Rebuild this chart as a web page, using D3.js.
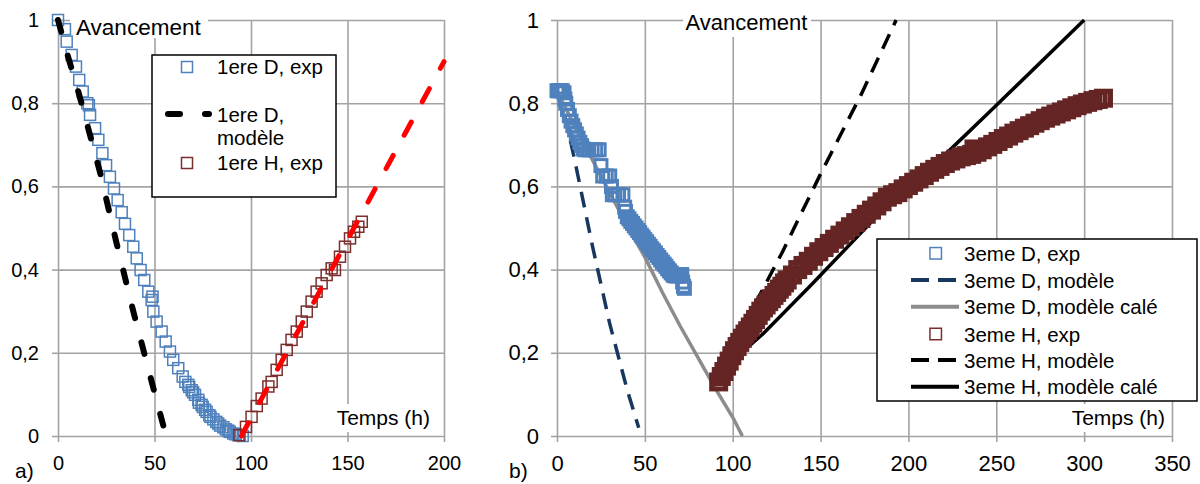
<!DOCTYPE html>
<html><head><meta charset="utf-8">
<script src="https://cdn.jsdelivr.net/npm/d3@7"></script>
<style>
body{margin:0;background:#fff}
svg{display:block}
text{font-family:"Liberation Sans",Arial,sans-serif;fill:#000}
</style>
</head><body>
<svg id="c" width="1200" height="484"></svg>
<script>
// ---------- DATA ----------
const yTicks = [0, 0.2, 0.4, 0.6, 0.8, 1];
const xTicksA = [0, 50, 100, 150, 200];
const xTicksB = [0, 50, 100, 150, 200, 250, 300, 350];

// Panel a) — 1ere
const d1Exp = [[0,1.0],[3.6,0.978],[4.5,0.948],[7.1,0.916],[9.3,0.888],[11,0.856],[12.8,0.828],[15.2,0.80],[16,0.795],[16.6,0.772],[19.2,0.74],[20.9,0.712],[23,0.68],[24.9,0.651],[26.9,0.623],[29,0.595],[30.9,0.567],[33,0.538],[34.7,0.51],[36.9,0.483],[39,0.455],[40.8,0.427],[42.8,0.399],[44.7,0.375],[46.8,0.347],[48.5,0.327],[49,0.335],[49.4,0.299],[51.1,0.275],[53.7,0.251],[55.8,0.227],[58,0.203],[59.7,0.183],[62.3,0.163],[64.6,0.143],[66,0.13],[67.5,0.123],[68,0.118],[69.3,0.11],[70,0.105],[71,0.099],[72.7,0.087],[73,0.08],[74.4,0.075],[75,0.07],[76.2,0.063],[77,0.058],[78.4,0.05],[79,0.046],[80.5,0.04],[82,0.034],[83,0.03],[84,0.025],[85.7,0.021],[87,0.016],[88.2,0.013],[89,0.01],[90.8,0.006],[92,0.004],[93.4,0.002],[95.7,0]];
const d1Model = [[0,1],[5,0.915],[11,0.82],[22,0.63],[30,0.47],[39,0.3],[48,0.14],[56,0]];
const h1Exp = [[94,0.002],[97.4,0.022],[100.3,0.046],[103,0.072],[105.5,0.09],[109,0.119],[110.7,0.13],[113.3,0.159],[115.9,0.183],[118.5,0.207],[121,0.231],[123.7,0.251],[126.3,0.275],[128.9,0.299],[131.4,0.323],[134,0.347],[136.6,0.367],[139.2,0.387],[141.8,0.403],[143.5,0.399],[146.1,0.431],[148.7,0.455],[151.3,0.475],[153.4,0.491],[155.6,0.503],[157.4,0.515]];
const h1Model = [[95,0],[200,0.9]];

// Panel b) — 3eme
const d3Exp = [[0,0.83],[1,0.83],[2,0.83],[3,0.83],[4,0.825],[4.5,0.81],[5,0.8],[6,0.785],[7,0.77],[8,0.757],[9,0.746],[10,0.736],[11,0.726],[12,0.716],[13,0.706],[14,0.698],[15,0.69],[16,0.688],[18,0.688],[20,0.688],[22,0.688],[24,0.688],[25,0.65],[26,0.625],[28,0.625],[30,0.625],[31,0.6],[31.5,0.58],[33,0.58],[35,0.58],[37.5,0.58],[38.5,0.55],[39,0.54],[40,0.527],[41,0.522],[42,0.516],[43,0.511],[44,0.505],[45,0.5],[46,0.494],[47,0.489],[48,0.483],[49,0.478],[50,0.472],[51,0.467],[52,0.461],[53,0.456],[54,0.45],[55,0.445],[56,0.44],[57,0.434],[58,0.429],[59,0.423],[60,0.418],[61,0.413],[62,0.408],[63,0.402],[64,0.397],[65,0.392],[66,0.387],[67,0.385],[68,0.385],[69,0.385],[70,0.387],[71,0.388],[71.5,0.37],[72,0.36],[72.5,0.355]];
const d3Model = [[0,0.83],[5,0.76],[10,0.665],[20,0.46],[30,0.27],[40,0.11],[46.5,0.02]];
const d3Fit = [[0,0.83],[10,0.745],[20,0.665],[30,0.585],[40,0.505],[50,0.43],[60,0.345],[70,0.265],[80,0.19],[90,0.115],[100,0.045],[105.5,0]];
const h3Exp = [[92,0.13],[93.5,0.143],[95,0.155],[96.5,0.168],[98,0.18],[99.5,0.193],[101,0.205],[102.5,0.215],[104,0.225],[105.5,0.235],[107,0.245],[108.5,0.253],[110,0.262],[111.5,0.271],[113,0.28],[114.5,0.29],[116,0.3],[117.5,0.308],[119,0.315],[120.5,0.323],[122,0.33],[123.5,0.338],[125,0.345],[126.5,0.353],[128,0.36],[129.5,0.368],[131,0.375],[134,0.387],[137,0.4],[140,0.41],[143,0.42],[146,0.432],[149,0.443],[152,0.453],[155,0.463],[158,0.473],[161,0.483],[164,0.493],[167,0.503],[170,0.513],[173,0.523],[176,0.533],[179,0.543],[182,0.553],[185,0.563],[188,0.574],[191,0.58],[194,0.585],[197,0.594],[200,0.602],[203,0.61],[206,0.618],[209,0.626],[212,0.634],[215,0.641],[218,0.648],[221,0.655],[224,0.661],[227,0.666],[230,0.671],[233,0.674],[236,0.677],[237.3,0.69],[239,0.682],[242,0.688],[245,0.695],[248,0.701],[251,0.708],[254,0.715],[257,0.721],[260,0.728],[263,0.734],[266,0.74],[269,0.746],[272,0.752],[275,0.758],[278,0.764],[281,0.769],[284,0.774],[287,0.779],[290,0.784],[293,0.789],[296,0.794],[299,0.798],[302,0.802],[305,0.806],[308,0.809],[311,0.812]];
const h3Model = [[92,0.15],[104,0.245],[113,0.32],[128,0.44],[150,0.63],[173,0.82],[193,1.0]];
const h3Fit = [[92,0.15],[105,0.2],[117.6,0.247],[145.6,0.367],[188.9,0.559],[222.5,0.683],[247.4,0.784],[300,1.0]];

const legendA = ["1ere D, exp", "1ere D, modèle", "1ere H, exp"];
const legendB = ["3eme D, exp", "3eme D, modèle", "3eme D, modèle calé", "3eme H, exp", "3eme H, modèle", "3eme H, modèle calé"];

// ---------- DRAW ----------
const svg = d3.select("#c");
svg.append("rect").attr("width",1200).attr("height",484).attr("fill","#fff");

const GRID = "#a3a3a3";
const BLUE = "#4f81bd";
const fmt = d => d === 0 ? "0" : d === 1 ? "1" : d3.format(".1f")(d).replace(".", ",");
const y = d3.scaleLinear([0,1],[436,20]);
const xA = d3.scaleLinear([0,200],[58,444]);
const xB = d3.scaleLinear([0,350],[557,1172]);

function frame(x, xTicks, fs, padY, padX){
  const g = svg.append("g");
  const [x0,x1] = x.range();
  g.append("g").attr("transform",`translate(${x0},0)`)
    .call(d3.axisLeft(y).tickValues(yTicks).tickSize(-(x1-x0)).tickFormat(""))
    .call(s=>{s.select(".domain").remove(); s.selectAll("line").attr("stroke",GRID).attr("stroke-width",1.6);});
  g.append("g").attr("transform",`translate(0,${y(0)})`)
    .call(d3.axisBottom(x).tickValues(xTicks).tickSize(-(y(0)-y(1))).tickFormat(""))
    .call(s=>{s.select(".domain").remove(); s.selectAll("line").attr("stroke",GRID).attr("stroke-width",1.6);});
  g.append("g").attr("transform",`translate(${x0},0)`)
    .call(d3.axisLeft(y).tickValues(yTicks).tickSize(6).tickPadding(padY).tickFormat(fmt))
    .call(s=>{s.select(".domain").remove(); s.selectAll("line").attr("stroke",GRID).attr("stroke-width",1.6);
      s.selectAll("text").attr("font-size",fs).attr("font-family",'"Liberation Sans",Arial,sans-serif').attr("fill","#000");});
  g.append("g").attr("transform",`translate(0,${y(0)})`)
    .call(d3.axisBottom(x).tickValues(xTicks).tickSize(6).tickPadding(padX))
    .call(s=>{s.select(".domain").remove(); s.selectAll("line").attr("stroke",GRID).attr("stroke-width",1.6);
      s.selectAll("text").attr("font-size",fs).attr("font-family",'"Liberation Sans",Arial,sans-serif').attr("fill","#000");});
  return g;
}

function label(txt, x, yb, fs, anchor, bg){
  if (bg) svg.append("rect").attr("x",bg[0]).attr("y",bg[1]).attr("width",bg[2]).attr("height",bg[3]).attr("fill","#fff");
  svg.append("text").attr("x",x).attr("y",yb).attr("font-size",fs).attr("text-anchor",anchor||"start").text(txt);
}

function squares(data, x, size, color, sw){
  svg.append("g").selectAll("rect").data(data).join("rect")
    .attr("x", d => x(d[0]) - size/2).attr("y", d => y(d[1]) - size/2)
    .attr("width", size).attr("height", size)
    .attr("fill","none").attr("stroke",color).attr("stroke-width",sw);
}
function line(data, x, color, sw, dash, cap){
  svg.append("path").datum(data)
    .attr("d", d3.line().x(d => x(d[0])).y(d => y(d[1])))
    .attr("fill","none").attr("stroke",color).attr("stroke-width",sw)
    .attr("stroke-dasharray", dash || null).attr("stroke-linecap", cap || "butt");
}

// ----- Panel a -----
frame(xA, xTicksA, 20, 13, 14);
label("Avancement", 76, 35, 22.5, "start", [70, 8, 138, 30]);
label("Temps (h)", 430, 425, 21, "end", [330, 404, 104, 28]);
label("a)", 15, 478, 21);

squares(d1Exp, xA, 11, BLUE, 1.5);
squares(h1Exp, xA, 11, "#7b2f2d", 1.5);
line(d1Model, xA, "#000", 6, "12,25", "round");
line(h1Model, xA, "#ff0000", 5, "15,23", "round");

// legend a
{
  const g = svg.append("g");
  g.append("rect").attr("x",152).attr("y",55).attr("width",184).attr("height",142).attr("fill","#fff").attr("stroke","#000").attr("stroke-width",1.5);
  const fs = 20.5;
  g.append("rect").attr("x",181.5).attr("y",61.5).attr("width",11).attr("height",11).attr("fill","none").attr("stroke",BLUE).attr("stroke-width",1.5);
  g.append("text").attr("x",217).attr("y",73.5).attr("font-size",fs).text(legendA[0]);
  g.append("line").attr("x1",168).attr("x2",209).attr("y1",114).attr("y2",114).attr("stroke","#000").attr("stroke-width",6).attr("stroke-dasharray","12,25").attr("stroke-linecap","round");
  const parts = legendA[1].split(" ");
  g.append("text").attr("x",217).attr("y",121.5).attr("font-size",fs).text(parts[0] + " " + parts[1]);
  g.append("text").attr("x",217).attr("y",144.5).attr("font-size",fs).text(parts[2]);
  g.append("rect").attr("x",181.5).attr("y",157.5).attr("width",11).attr("height",11).attr("fill","none").attr("stroke","#7b2f2d").attr("stroke-width",1.5);
  g.append("text").attr("x",217).attr("y",169.5).attr("font-size",fs).text(legendA[2]);
}

// ----- Panel b -----
frame(xB, xTicksB, 22, 12, 13);
label("Avancement", 746.5, 29.5, 22, "middle", [683, 6, 128, 31]);
label("Temps (h)", 1165, 425, 21, "end", [1066, 404, 102, 28]);
label("b)", 509, 478, 21);

line(d3Model, xB, "#17375e", 3.5, "16,10");
line(d3Fit, xB, "#8c8c8c", 3.5);
line(h3Model, xB, "#000", 3.5, "16,10");
line(h3Fit, xB, "#000", 3.5);
squares(d3Exp, xB, 12, BLUE, 3);
squares(h3Exp, xB, 14, "#652524", 5);

// legend b
{
  const g = svg.append("g");
  g.append("rect").attr("x",877).attr("y",239).attr("width",320).attr("height",162).attr("fill","#fff").attr("stroke","#000").attr("stroke-width",1.5);
  const rows = [253.3, 280, 306.7, 334, 360, 386.7];
  const fs = 20.5;
  const sym = [
    {t:"sq", c:BLUE},
    {t:"ln", c:"#17375e", dash:"18,9"},
    {t:"ln", c:"#8c8c8c"},
    {t:"sq", c:"#7b2f2d"},
    {t:"ln", c:"#000", dash:"18,9"},
    {t:"ln", c:"#000"}
  ];
  legendB.forEach((name,i) => {
    const cy = rows[i], s = sym[i];
    if (s.t === "sq") {
      g.append("rect").attr("x",935.7-5.75).attr("y",cy-5.75).attr("width",11.5).attr("height",11.5).attr("fill","none").attr("stroke",s.c).attr("stroke-width",1.5);
    } else {
      g.append("line").attr("x1",911).attr("x2",959).attr("y1",cy).attr("y2",cy).attr("stroke",s.c).attr("stroke-width",4).attr("stroke-dasharray",s.dash||null);
    }
    g.append("text").attr("x",964).attr("y",cy+7.5).attr("font-size",fs).text(name);
  });
}
</script>
</body></html>
